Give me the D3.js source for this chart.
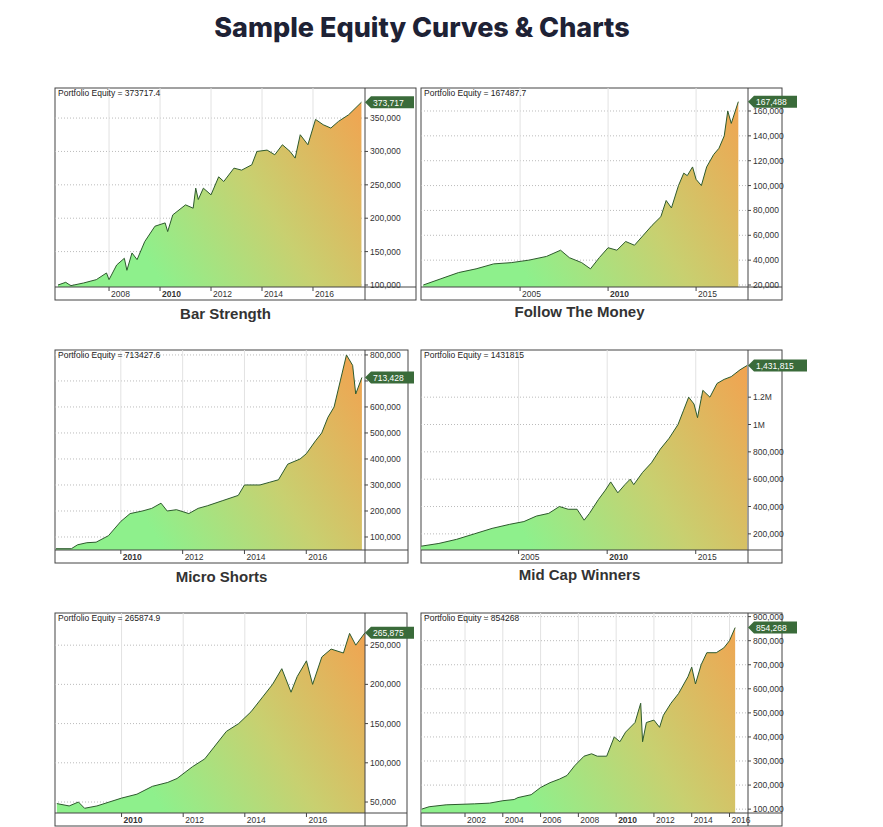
<!DOCTYPE html>
<html><head><meta charset="utf-8">
<script src="https://cdn.jsdelivr.net/npm/d3@7"></script>
<style>body{margin:0;background:#fff}</style>
</head><body>
<svg id="c" width="883" height="827"></svg>
<script>
// equity series, [year, value in thousands]
var barStrength = [[2006.0,100],[2006.3,104],[2006.5,99],[2007,103],[2007.5,108],[2007.9,118],[2008.0,108],[2008.3,130],[2008.6,140],[2008.7,122],[2008.9,148],[2009.1,138],[2009.4,165],[2009.8,188],[2010.2,193],[2010.3,180],[2010.5,205],[2011,220],[2011.3,215],[2011.4,245],[2011.5,228],[2011.7,245],[2012,235],[2012.3,262],[2012.5,255],[2012.9,275],[2013.2,272],[2013.6,280],[2013.8,300],[2014.2,302],[2014.5,295],[2014.8,310],[2015.1,300],[2015.3,290],[2015.5,325],[2015.8,310],[2016.1,348],[2016.4,340],[2016.7,335],[2017,345],[2017.4,355],[2017.9,373.7]]
var followMoney = [[1999.5,20],[2000.5,25],[2001.5,30],[2002.5,33],[2003.5,37],[2004.5,38],[2005.5,40],[2006.5,43],[2007.3,48],[2007.8,42],[2008.5,38],[2009.0,33],[2009.5,42],[2010,50],[2010.5,48],[2011,55],[2011.5,52],[2012,60],[2012.5,68],[2013,75],[2013.3,88],[2013.6,82],[2014,100],[2014.3,110],[2014.5,108],[2014.8,115],[2015,105],[2015.3,100],[2015.6,115],[2016,125],[2016.3,130],[2016.6,140],[2016.8,160],[2017,150],[2017.4,167.5]]
var microShorts = [[2007.9,55],[2008.4,55],[2008.6,70],[2008.9,78],[2009.2,80],[2009.6,105],[2010,160],[2010.3,190],[2010.7,200],[2011.0,210],[2011.3,230],[2011.5,200],[2011.8,205],[2012.2,190],[2012.5,210],[2012.8,220],[2013.3,240],[2013.8,260],[2014,300],[2014.5,300],[2014.8,310],[2015.1,320],[2015.4,380],[2015.8,400],[2016,420],[2016.3,470],[2016.5,500],[2016.7,560],[2016.9,600],[2017.1,700],[2017.3,800],[2017.5,760],[2017.6,650],[2017.8,713.4]]
var midCap = [[1999.5,110],[2000.5,130],[2001.5,160],[2002.5,200],[2003.5,240],[2004.5,270],[2005.3,290],[2006,330],[2006.7,350],[2007.3,400],[2007.8,380],[2008.3,380],[2008.7,300],[2009.0,350],[2009.5,450],[2009.9,520],[2010.2,580],[2010.6,500],[2011,560],[2011.3,600],[2011.5,560],[2012,650],[2012.5,720],[2013,820],[2013.5,900],[2014,1000],[2014.3,1100],[2014.6,1200],[2014.9,1150],[2015.1,1050],[2015.4,1250],[2015.8,1200],[2016.2,1300],[2016.6,1330],[2017,1350],[2017.5,1400],[2017.9,1431.8]]
var chart5 = [[2007.9,48],[2008.3,45],[2008.6,50],[2008.8,42],[2009.2,45],[2009.6,50],[2010,55],[2010.5,60],[2011,70],[2011.5,75],[2011.8,80],[2012.3,95],[2012.7,105],[2013,120],[2013.4,140],[2013.8,150],[2014.2,165],[2014.6,185],[2014.9,200],[2015.2,220],[2015.5,190],[2015.7,210],[2016,230],[2016.2,200],[2016.5,235],[2016.8,245],[2017.2,240],[2017.4,265],[2017.6,250],[2017.9,265.9]]
var chart6 = [[1999.7,100],[2000.1,110],[2001,118],[2002.5,122],[2003.3,125],[2004,135],[2004.6,140],[2004.8,148],[2005.5,160],[2006,190],[2006.5,210],[2007,225],[2007.4,240],[2007.8,280],[2008.3,320],[2008.7,330],[2009,320],[2009.5,320],[2009.9,400],[2010.2,380],[2010.5,420],[2011,460],[2011.3,540],[2011.4,380],[2011.6,460],[2012,470],[2012.3,440],[2012.5,490],[2012.9,540],[2013.3,580],[2013.8,650],[2014,690],[2014.2,620],[2014.5,700],[2014.8,750],[2015.3,750],[2015.7,770],[2016,800],[2016.3,854.3]]

var panels = [
  {data: barStrength, name: "Bar Strength", hdr: "Portfolio Equity = 373717.4", flag: "373,717",
   box: [55,88,416,300], pr: 365, xd: [2005.88,2018.04], yd: [97,395],
   xt: [2008,2010,2012,2014,2016], yt: [100,150,200,250,300,350], fmt: "k", titleY: 319},
  {data: followMoney, name: "Follow The Money", hdr: "Portfolio Equity = 167487.7", flag: "167,488",
   box: [421,88,782,300], pr: 748, xd: [1999.37,2017.95], yd: [18.4,178.5],
   xt: [2005,2010,2015], yt: [20,40,60,80,100,120,140,160], fmt: "k", titleY: 317},
  {data: microShorts, name: "Micro Shorts", hdr: "Portfolio Equity = 713427.6", flag: "713,428",
   box: [55,350,408,563], pr: 365, xd: [2007.87,2017.9], yd: [50,819],
   xt: [2010,2012,2014,2016], yt: [100,200,300,400,500,600,700,800], fmt: "k", titleY: 582},
  {data: midCap, name: "Mid Cap Winners", hdr: "Portfolio Equity = 1431815", flag: "1,431,815",
   box: [421,350,782,563], pr: 748, xd: [1999.49,2017.95], yd: [82,1545],
   xt: [2005,2010,2015], yt: [200,400,600,800,1000,1200], fmt: "m", titleY: 580},
  {data: chart5, name: "", hdr: "Portfolio Equity = 265874.9", flag: "265,875",
   box: [55,613,407,826], pr: 365, xd: [2007.84,2017.9], yd: [36,291],
   xt: [2010,2012,2014,2016], yt: [50,100,150,200,250], fmt: "k"},
  {data: chart6, name: "", hdr: "Portfolio Equity = 854268", flag: "854,268",
   box: [421,613,782,826], pr: 748, xd: [1999.67,2016.98], yd: [84,915],
   xt: [2002,2004,2006,2008,2010,2012,2014,2016], yt: [100,200,300,400,500,600,700,800,900], fmt: "k"}
]

var svg = d3.select("#c")
svg.append("text").attr("x", 422).attr("y", 37).attr("text-anchor", "middle")
  .attr("font-family", "Inter, sans-serif").attr("font-weight", 800).attr("font-size", 27)
  .attr("fill", "#1e2235").text("Sample Equity Curves & Charts")

var defs = svg.append("defs")
var comma = d3.format(",")

panels.forEach(function(p, i){
  var x0 = p.box[0], y0 = p.box[1], x1 = p.box[2], y1 = p.box[3]
  var plotBottom = y1 - 13
  var g = svg.append("g")
  var x = d3.scaleLinear().domain(p.xd).range([x0, p.pr])
  var y = d3.scaleLinear().domain(p.yd).range([plotBottom, y0])
  var f = "Liberation Sans, Arial, sans-serif"
  var last = p.data[p.data.length - 1]
  var fy = y(last[1])

  g.append("rect").attr("x", x0).attr("y", y0).attr("width", x1 - x0).attr("height", y1 - y0)
    .attr("fill", "#fff").attr("stroke", "#444")
  // grid
  g.selectAll(".hg").data(p.yt).enter().append("line")
    .attr("x1", x0).attr("x2", p.pr).attr("y1", d => y(d)).attr("y2", d => y(d))
    .attr("stroke", "#bbb").attr("stroke-dasharray", "1,2")
  g.selectAll(".vg").data(p.xt).enter().append("line")
    .attr("x1", d => x(d)).attr("x2", d => x(d)).attr("y1", y0).attr("y2", plotBottom)
    .attr("stroke", "#e2e2e2")

  var gid = "gr" + i
  var grad = defs.append("linearGradient").attr("id", gid).attr("gradientUnits", "userSpaceOnUse")
    .attr("x1", x0).attr("y1", plotBottom).attr("x2", p.pr).attr("y2", y0)
  grad.append("stop").attr("offset", "0.25").attr("stop-color", "#8ef08c")
  grad.append("stop").attr("offset", "0.6").attr("stop-color", "#c8d070")
  grad.append("stop").attr("offset", "1").attr("stop-color", "#f4a04e")

  g.append("path").datum(p.data)
    .attr("d", d3.area().x(d => x(d[0])).y0(plotBottom).y1(d => y(d[1])))
    .attr("fill", "url(#" + gid + ")")
  g.append("path").datum(p.data)
    .attr("d", d3.line().x(d => x(d[0])).y(d => y(d[1])))
    .attr("fill", "none").attr("stroke", "#2d5a2d").attr("stroke-width", 1)

  // axes
  g.append("line").attr("x1", p.pr).attr("x2", p.pr).attr("y1", y0).attr("y2", y1).attr("stroke", "#444")
  g.append("line").attr("x1", x0).attr("x2", x1).attr("y1", plotBottom).attr("y2", plotBottom).attr("stroke", "#444")
  var yShown = p.yt.filter(d => Math.abs(y(d) - fy) > 9)
  g.selectAll(".yl").data(yShown).enter().append("text")
    .attr("x", p.pr + 5).attr("y", d => y(d) + 3).attr("font-family", f).attr("font-size", 8.5).attr("fill", "#333")
    .text(d => p.fmt == "m" ? (d >= 1000 ? d / 1000 + "M" : comma(d * 1000)) : comma(d * 1000))
  g.selectAll(".yk").data(p.yt).enter().append("line")
    .attr("x1", p.pr).attr("x2", p.pr + 3).attr("y1", d => y(d)).attr("y2", d => y(d)).attr("stroke", "#444")
  g.selectAll(".xk").data(p.xt).enter().append("line")
    .attr("x1", d => x(d)).attr("x2", d => x(d)).attr("y1", plotBottom).attr("y2", plotBottom + 4).attr("stroke", "#444")
  g.selectAll(".xl").data(p.xt).enter().append("text")
    .attr("x", d => x(d) + 2).attr("y", plotBottom + 10).attr("font-family", f).attr("font-size", 8.5)
    .attr("font-weight", d => d == 2010 ? "bold" : "normal").attr("fill", "#333").text(d => d)

  g.append("text").attr("x", x0 + 3).attr("y", y0 + 8).attr("font-family", f).attr("font-size", 8.5)
    .attr("fill", "#222").text(p.hdr)

  // value flag
  var fw = p.flag.length * 5 + 8
  g.append("path").attr("d", "M" + p.pr + "," + fy + " l6,-6 h" + fw + " v12 h-" + fw + " z")
    .attr("fill", "#3a6b3a")
  g.append("text").attr("x", p.pr + 8).attr("y", fy + 3.5).attr("font-family", f).attr("font-size", 8.5)
    .attr("fill", "#fff").text(p.flag)

  if (p.name) svg.append("text").attr("x", (x0 + x1) / 2 - (i % 2 ? 22 : 10)).attr("y", p.titleY)
    .attr("text-anchor", "middle").attr("font-family", f).attr("font-weight", "bold")
    .attr("font-size", 15).attr("fill", "#333").text(p.name)
})
</script>
</body></html>
